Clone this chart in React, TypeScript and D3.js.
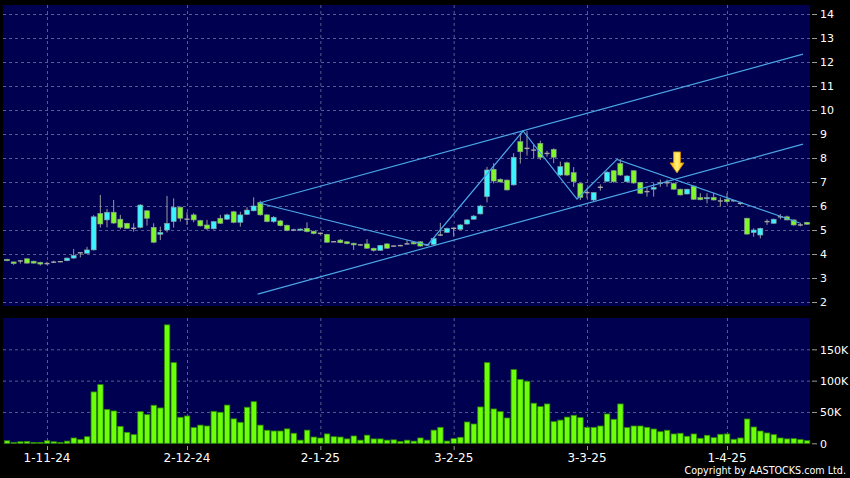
import React from "react";
import * as d3 from "d3";

// ---- data (bar index 0..120) ----
const opens = [
  3.78, 3.67, 3.71, 3.80, 3.70, 3.65, 3.60, 3.66, 3.68, 3.72,
  3.83, 4.05, 4.03, 4.17, 5.69, 5.42, 5.74, 5.45, 5.28, 5.07,
  5.11, 5.80, 5.11, 4.82, 5.00, 5.35, 5.95, 5.45, 5.63, 5.39,
  5.21, 5.05, 5.49, 5.45, 5.76, 5.32, 5.65, 5.80, 6.14, 5.63,
  5.35, 5.38, 5.20, 5.00, 5.00, 5.07, 4.95, 4.86, 4.82, 4.51,
  4.58, 4.51, 4.45, 4.38, 4.42, 4.24, 4.15, 4.42, 4.33, 4.35,
  4.42, 4.49, 4.51, 4.38, 4.40, 4.79, 4.90, 5.07, 5.03, 5.25,
  5.45, 5.67, 6.39, 7.53, 7.11, 7.08, 6.88, 8.68, 8.40, 8.33,
  8.61, 8.19, 8.36, 7.29, 7.80, 7.39, 6.94, 6.56, 6.25, 6.78,
  7.03, 7.47, 7.77, 7.01, 7.47, 6.98, 6.60, 6.70, 6.95, 6.97,
  6.94, 6.70, 6.50, 6.83, 6.35, 6.30, 6.36, 6.21, 6.28, 6.22,
  6.11, 5.49, 4.89, 4.79, 5.35, 5.28, 5.55, 5.55, 5.42, 5.21,
  5.32,
];
const highs = [
  3.80, 3.68, 3.75, 3.83, 3.72, 3.68, 3.68, 3.72, 3.70, 3.85,
  4.21, 4.06, 4.30, 5.62, 6.46, 5.88, 6.25, 5.63, 5.30, 5.28,
  6.08, 5.83, 5.28, 5.14, 6.42, 6.32, 5.97, 5.74, 5.70, 5.42,
  5.42, 5.38, 5.63, 5.68, 5.80, 5.76, 5.95, 6.36, 6.22, 5.66,
  5.58, 5.42, 5.22, 5.05, 5.06, 5.32, 4.97, 4.90, 4.84, 4.53,
  4.62, 4.53, 4.47, 4.40, 4.62, 4.26, 4.38, 4.45, 4.35, 4.38,
  4.58, 4.51, 4.53, 4.42, 4.68, 5.30, 5.10, 5.10, 5.24, 5.45,
  5.62, 6.05, 7.63, 7.78, 7.15, 7.10, 8.20, 9.05, 9.12, 8.56,
  8.72, 8.30, 8.40, 7.85, 7.85, 7.62, 6.97, 6.74, 6.58, 6.90,
  7.45, 7.50, 7.95, 7.28, 7.50, 7.00, 6.78, 6.95, 7.10, 7.10,
  6.97, 6.72, 6.72, 6.85, 6.53, 6.53, 6.55, 6.36, 6.53, 6.25,
  6.18, 5.51, 5.07, 5.10, 5.45, 5.47, 5.66, 5.60, 5.44, 5.30,
  5.34,
];
const lows = [
  3.70, 3.55, 3.60, 3.60, 3.60, 3.52, 3.55, 3.62, 3.66, 3.70,
  3.80, 3.86, 4.03, 4.15, 5.10, 5.11, 5.25, 5.03, 5.05, 4.93,
  5.07, 5.18, 4.45, 4.58, 4.90, 5.10, 5.35, 5.21, 5.32, 5.15,
  5.00, 5.02, 5.25, 5.42, 5.28, 5.14, 5.62, 5.78, 5.60, 5.32,
  5.30, 5.15, 4.95, 4.95, 4.98, 4.90, 4.82, 4.80, 4.47, 4.49,
  4.45, 4.40, 4.17, 4.35, 4.22, 4.10, 4.13, 4.22, 4.30, 4.32,
  4.40, 4.40, 4.31, 4.33, 4.38, 4.75, 4.88, 4.72, 5.00, 5.22,
  5.43, 5.65, 6.15, 6.94, 6.98, 6.64, 6.85, 7.77, 8.10, 7.99,
  7.92, 8.05, 7.78, 7.25, 7.25, 6.80, 6.25, 6.32, 6.20, 6.64,
  7.00, 6.97, 7.25, 6.98, 6.92, 6.50, 6.39, 6.39, 6.80, 6.80,
  6.68, 6.44, 6.48, 6.25, 6.24, 6.11, 6.23, 5.97, 6.11, 6.18,
  6.05, 4.80, 4.72, 4.65, 5.21, 5.26, 5.45, 5.40, 5.18, 5.15,
  5.22,
];
const closes = [
  3.72, 3.60, 3.71, 3.62, 3.62, 3.58, 3.60, 3.66, 3.68, 3.83,
  3.94, 4.05, 4.17, 5.55, 5.25, 5.74, 5.29, 5.11, 5.07, 5.07,
  6.04, 5.49, 4.49, 4.90, 5.28, 5.95, 5.49, 5.45, 5.42, 5.17,
  5.05, 5.35, 5.28, 5.63, 5.32, 5.63, 5.83, 6.00, 5.63, 5.35,
  5.53, 5.18, 4.98, 5.00, 5.04, 4.93, 4.85, 4.86, 4.49, 4.51,
  4.47, 4.43, 4.38, 4.38, 4.24, 4.15, 4.36, 4.24, 4.33, 4.35,
  4.42, 4.42, 4.33, 4.38, 4.65, 4.79, 5.07, 5.07, 5.21, 5.42,
  5.58, 6.00, 7.50, 7.04, 7.00, 6.67, 8.03, 8.26, 8.40, 8.33,
  8.03, 8.19, 8.03, 7.64, 7.29, 7.01, 6.36, 6.56, 6.56, 6.78,
  7.41, 7.01, 7.29, 7.25, 6.96, 6.53, 6.60, 6.78, 6.95, 6.97,
  6.70, 6.46, 6.70, 6.28, 6.26, 6.35, 6.25, 6.21, 6.18, 6.22,
  6.11, 4.83, 5.00, 5.07, 5.35, 5.45, 5.55, 5.42, 5.21, 5.21,
  5.24,
];
// volume in thousands of shares
const volumesK = [
  4, 1.5, 2.5, 3, 1.5, 1.5, 4, 2.5, 1.5, 3.5,
  8.5, 6, 10.5, 82, 93.6, 54, 51.6, 27, 17.5, 13.8,
  50.5, 45.7, 60.7, 56.4, 189, 128.7, 41.5, 43.6, 25, 29,
  27.6, 51, 49.5, 61, 39, 33.5, 57.5, 66.4, 29, 20.8,
  19.6, 19.6, 23, 16, 5, 21, 10, 8.5, 15, 10.5,
  10, 7, 11.7, 5, 13, 7, 7, 5, 5.5, 3,
  5, 3.5, 8.5, 5, 21, 25.5, 3.6, 7.4, 9.6, 34,
  30.8, 58, 128.7, 54.8, 50.5, 40.4, 117.6, 102, 99, 64,
  58.5, 62.8, 34.5, 37, 41.8, 44.7, 41, 25.5, 25.5, 27.6,
  46.8, 38.3, 62.8, 25, 27.6, 27.6, 25.5, 22.8, 18.5, 20.8,
  14.9, 16, 11.2, 14.9, 8, 12.8, 9, 14.4, 14.9, 6.4,
  8.5, 38.8, 26, 19.6, 16.5, 13.8, 8.5, 7, 7.4, 5.9,
  4.2,
];
const dateTickIdx = [6, 27, 47, 67, 87, 108];
const dateTickLabels = ["1-11-24", "2-12-24", "2-1-25", "3-2-25", "3-3-25", "1-4-25"];
const priceTicks = [2, 3, 4, 5, 6, 7, 8, 9, 10, 11, 12, 13, 14];
const volumeTicks = [0, 50000, 100000, 150000];
const volumeTickLabels = ["0", "50K", "100K", "150K"];

// drawn annotation lines, as [bar index, price]
const zigzagIdx = [37.8, 63.1, 77.4, 85.5, 91.5, 118.9];
const zigzagPrice = [6.125, 4.375, 9.125, 6.29, 7.94, 5.29];
const channelUpperIdx = [37.8, 119.4];
const channelUpperPrice = [6.125, 12.33];
const channelLowerIdx = [37.6, 119.4];
const channelLowerPrice = [2.33, 8.58];
const arrowIdx = 100.5;
const arrowPrice = 7.38;

const W = 850;
const H = 478;
const PLOT_L = 3;
const PLOT_R = 810;
const PRICE_T = 5;
const PRICE_B = 306;
const VOL_T = 318;
const VOL_B = 444;

const FONT = "DejaVu Sans, Verdana, sans-serif";
const GRID = "#5a5a8e";
const LINE = "#4aa6e6";
const CYAN = "#3cf4ff";
const GREEN = "#80f72a";

export default function App() {
  const x = d3.scaleLinear().domain([0, 120]).range([7, 807]);
  const y = d3.scaleLinear().domain([2, 14]).range([302, 14]);
  const yv = d3.scaleLinear().domain([0, 150000]).range([443.3, 349.3]);
  const bw = 5;

  const lineGen = d3
    .line<[number, number]>()
    .x((d) => x(d[0]))
    .y((d) => y(d[1]));

  const zig: [number, number][] = zigzagIdx.map((v, i) => [v, zigzagPrice[i]]);
  const up: [number, number][] = channelUpperIdx.map((v, i) => [v, channelUpperPrice[i]]);
  const lo: [number, number][] = channelLowerIdx.map((v, i) => [v, channelLowerPrice[i]]);

  const ax = x(arrowIdx);
  const ay = y(arrowPrice);
  const arrowPath = `M${ax},${ay} L${ax - 7},${ay - 10} L${ax - 3.5},${ay - 10} L${ax - 3.5},${ay - 21} L${ax + 3.5},${ay - 21} L${ax + 3.5},${ay - 10} L${ax + 7},${ay - 10} Z`;

  return (
    <svg
      width={W}
      height={H}
      style={{ position: "absolute", left: 0, top: 0, display: "block" }}
      fontFamily={FONT}
    >
      <defs>
        <linearGradient id="arrowGrad" x1="0" y1="0" x2="1" y2="0">
          <stop offset="0" stopColor="#ffb400" />
          <stop offset="0.5" stopColor="#fff27a" />
          <stop offset="1" stopColor="#ffb400" />
        </linearGradient>
      </defs>
      <rect x={0} y={0} width={W} height={H} fill="#000" />
      <rect x={PLOT_L} y={PRICE_T} width={PLOT_R - PLOT_L} height={PRICE_B - PRICE_T} fill="#000050" />
      <rect x={PLOT_L} y={VOL_T} width={PLOT_R - PLOT_L} height={VOL_B - VOL_T} fill="#000050" />

      {/* price grid */}
      {priceTicks.map((t) => (
        <g key={"pt" + t}>
          <line x1={PLOT_L} x2={PLOT_R} y1={y(t) + 0.5} y2={y(t) + 0.5} stroke={GRID} strokeDasharray="3,3" />
          <line x1={812} x2={817} y1={y(t) + 0.5} y2={y(t) + 0.5} stroke="#9a9a9a" />
          <text x={820} y={y(t) + 0.5} dy="0.35em" fill="#fff" fontSize={11}>
            {t}
          </text>
        </g>
      ))}
      {/* volume grid */}
      {volumeTicks.map((t, i) => (
        <g key={"vt" + t}>
          {t > 0 && (
            <line x1={PLOT_L} x2={PLOT_R} y1={yv(t) + 0.5} y2={yv(t) + 0.5} stroke={GRID} strokeDasharray="3,3" />
          )}
          <line x1={812} x2={817} y1={yv(t) + 0.5} y2={yv(t) + 0.5} stroke="#9a9a9a" />
          <text x={820} y={yv(t) + 0.5} dy="0.35em" fill="#fff" fontSize={11}>
            {volumeTickLabels[i]}
          </text>
        </g>
      ))}
      {/* vertical date grid */}
      {dateTickIdx.map((d, i) => (
        <g key={"dt" + d}>
          <line x1={x(d) + 0.5} x2={x(d) + 0.5} y1={PRICE_T} y2={PRICE_B} stroke={GRID} strokeDasharray="3,3" />
          <line x1={x(d) + 0.5} x2={x(d) + 0.5} y1={VOL_T} y2={VOL_B} stroke={GRID} strokeDasharray="3,3" />
          <line x1={x(d) + 0.5} x2={x(d) + 0.5} y1={446} y2={450} stroke="#9a9a9a" />
          <text x={x(d)} y={462} textAnchor="middle" fill="#fff" fontSize={12}>
            {dateTickLabels[i]}
          </text>
        </g>
      ))}

      {/* volume bars */}
      {volumesK.map((v, i) => (
        <rect
          key={"v" + i}
          x={x(i) - 2.6}
          y={yv(v * 1000)}
          width={5.4}
          height={Math.max(0.5, yv(0) - yv(v * 1000))}
          fill="#6cff0a"
          stroke="#2f8c00"
          strokeWidth={0.8}
        />
      ))}

      {/* candles */}
      {opens.map((o, i) => {
        const c = closes[i];
        const cx = x(i);
        const top = y(Math.max(o, c));
        const bot = y(Math.min(o, c));
        const doji = Math.abs(o - c) < 0.005;
        const fill = c > o ? CYAN : GREEN;
        return (
          <g key={"c" + i}>
            <line x1={cx} x2={cx} y1={y(highs[i])} y2={y(lows[i])} stroke="#9a9a9a" strokeWidth={1} />
            {doji ? (
              <line x1={cx - bw / 2} x2={cx + bw / 2} y1={top} y2={top} stroke="#a8a8a8" strokeWidth={1.4} />
            ) : (
              <rect
                x={cx - bw / 2}
                y={top}
                width={bw}
                height={Math.max(1.2, bot - top)}
                fill={fill}
                stroke="#8a9a9a"
                strokeWidth={0.6}
              />
            )}
          </g>
        );
      })}

      {/* annotation lines */}
      <path d={lineGen(up) || ""} fill="none" stroke={LINE} strokeWidth={1.2} />
      <path d={lineGen(lo) || ""} fill="none" stroke={LINE} strokeWidth={1.2} />
      <path d={lineGen(zig) || ""} fill="none" stroke={LINE} strokeWidth={1.2} />

      {/* arrow */}
      <path d={arrowPath} fill="url(#arrowGrad)" stroke="#d08a00" strokeWidth={0.8} />

      <text x={846} y={474} textAnchor="end" fill="#fff" fontSize={9.6}>
        Copyright by AASTOCKS.com Ltd.
      </text>
    </svg>
  );
}
